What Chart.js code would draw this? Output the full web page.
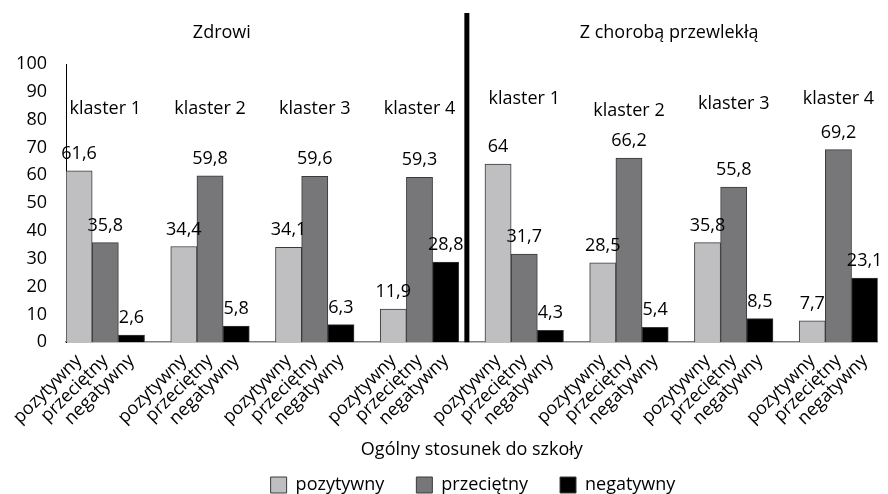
<!DOCTYPE html>
<html lang="pl">
<head>
<meta charset="utf-8">
<script src="https://cdn.jsdelivr.net/npm/chart.js@4"></script>
<style>
  html, body { margin: 0; padding: 0; background: #fff; }
  #wrap { width: 888px; height: 494px; }
</style>
</head>
<body>
<div id="wrap"><canvas id="wykres"></canvas></div>
<script>
// dane: odsetki w klastrach (4 dla zdrowych, 4 dla chorych przewlekle)
const grupy = ['Zdrowi', 'Z chorobą przewlekłą'];
const klastry = ['klaster 1', 'klaster 2', 'klaster 3', 'klaster 4',
                 'klaster 1', 'klaster 2', 'klaster 3', 'klaster 4'];
const kategorie = ['pozytywny', 'przeciętny', 'negatywny'];
const pozytywny  = [61.6, 34.4, 34.1, 11.9, 64, 28.5, 35.8, 7.7];
const przecietny = [35.8, 59.8, 59.6, 59.3, 31.7, 66.2, 55.8, 69.2];
const negatywny  = [2.6, 5.8, 6.3, 28.8, 4.3, 5.4, 8.5, 23.1];
const osY = { min: 0, max: 100, krok: 10 };

const kolory = ['#bfbfc1', '#77777a', '#000000'];
const serie = [pozytywny, przecietny, negatywny];

// etykiety osi X: 3 slupki na klaster + pusta przerwa miedzy klastrami
const etykiety = [];
klastry.forEach((k, i) => {
  kategorie.forEach(c => etykiety.push(c));
  if (i < klastry.length - 1) etykiety.push('');
});

const zbiory = serie.map((s, si) => {
  const d = new Array(etykiety.length).fill(null);
  s.forEach((v, k) => { d[k * 4 + si] = v; });
  return {
    label: kategorie[si],
    data: d,
    backgroundColor: kolory[si],
    borderColor: '#3a3a3a',
    borderWidth: 1,
    grouped: false,
    barPercentage: 1,
    categoryPercentage: 1
  };
});

const FONT = '"Open Sans", sans-serif';

// wartosci nad slupkami, napisy klastrow, tytuly grup i linia podzialu
const opisy = {
  id: 'opisy',
  afterLayout(chart) {
    // legenda troche nizej i w prawo niz domyslnie
    const lg = chart.legend;
    lg.top = 444;
    lg.left += 32;
    lg.right += 32;
  },
  afterDatasetsDraw(chart) {
    const ctx = chart.ctx;
    const xs = chart.scales.x, ys = chart.scales.y;
    const area = chart.chartArea;
    ctx.save();
    ctx.fillStyle = '#000';
    ctx.font = '18px ' + FONT;
    ctx.textAlign = 'center';
    ctx.textBaseline = 'alphabetic';
    chart.data.datasets.forEach((ds, di) => {
      chart.getDatasetMeta(di).data.forEach((bar, i) => {
        const v = ds.data[i];
        if (v === null) return;
        ctx.fillText(String(v).replace('.', ','), bar.x, bar.y - 12);
      });
    });

    const wysKlastra = [83.7, 83.7, 84, 84, 87.3, 83, 85.5, 87.3];
    ctx.textBaseline = 'middle';
    klastry.forEach((k, i) => {
      ctx.fillText(k, xs.getPixelForValue(i * 4 + 1), ys.getPixelForValue(wysKlastra[i]));
    });

    const w = area.right - area.left;
    ctx.fillText(grupy[0], area.left + w * 0.192, 33);
    ctx.fillText(grupy[1], area.left + w * 0.743, 33);

    const xl = xs.getPixelForValue(15) - 5;
    ctx.fillRect(xl - 2.5, 13, 5, area.bottom - 13);
    ctx.restore();
  }
};

new Chart(document.getElementById('wykres'), {
  type: 'bar',
  data: { labels: etykiety, datasets: zbiory },
  options: {
    responsive: true,
    maintainAspectRatio: false,
    animation: false,
    layout: { padding: { top: 64, right: 6, left: 0, bottom: 0 } },
    plugins: {
      legend: {
        position: 'bottom',
        maxHeight: 33,
        labels: {
          color: '#000',
          font: { family: FONT, size: 18 },
          boxWidth: 16,
          boxHeight: 16,
          padding: 32
        }
      },
      tooltip: { enabled: false }
    },
    scales: {
      x: {
        grid: { display: false, drawTicks: false },
        border: { color: '#808080', width: 1.5 },
        ticks: {
          color: '#000',
          font: { family: FONT, size: 18 },
          minRotation: 45,
          maxRotation: 45,
          autoSkip: false,
          padding: 8
        },
        title: {
          display: true,
          text: 'Ogólny stosunek do szkoły',
          color: '#000',
          font: { family: FONT, size: 18 },
          padding: { top: 2, bottom: 0 }
        }
      },
      y: {
        min: osY.min,
        max: osY.max,
        grid: { display: false, drawTicks: false },
        border: { color: '#000', width: 1 },
        ticks: {
          stepSize: osY.krok,
          color: '#000',
          font: { family: FONT, size: 18 },
          padding: 19
        },
        afterFit(s) { s.width = 66; }
      }
    }
  },
  plugins: [opisy]
});
</script>
</body>
</html>
